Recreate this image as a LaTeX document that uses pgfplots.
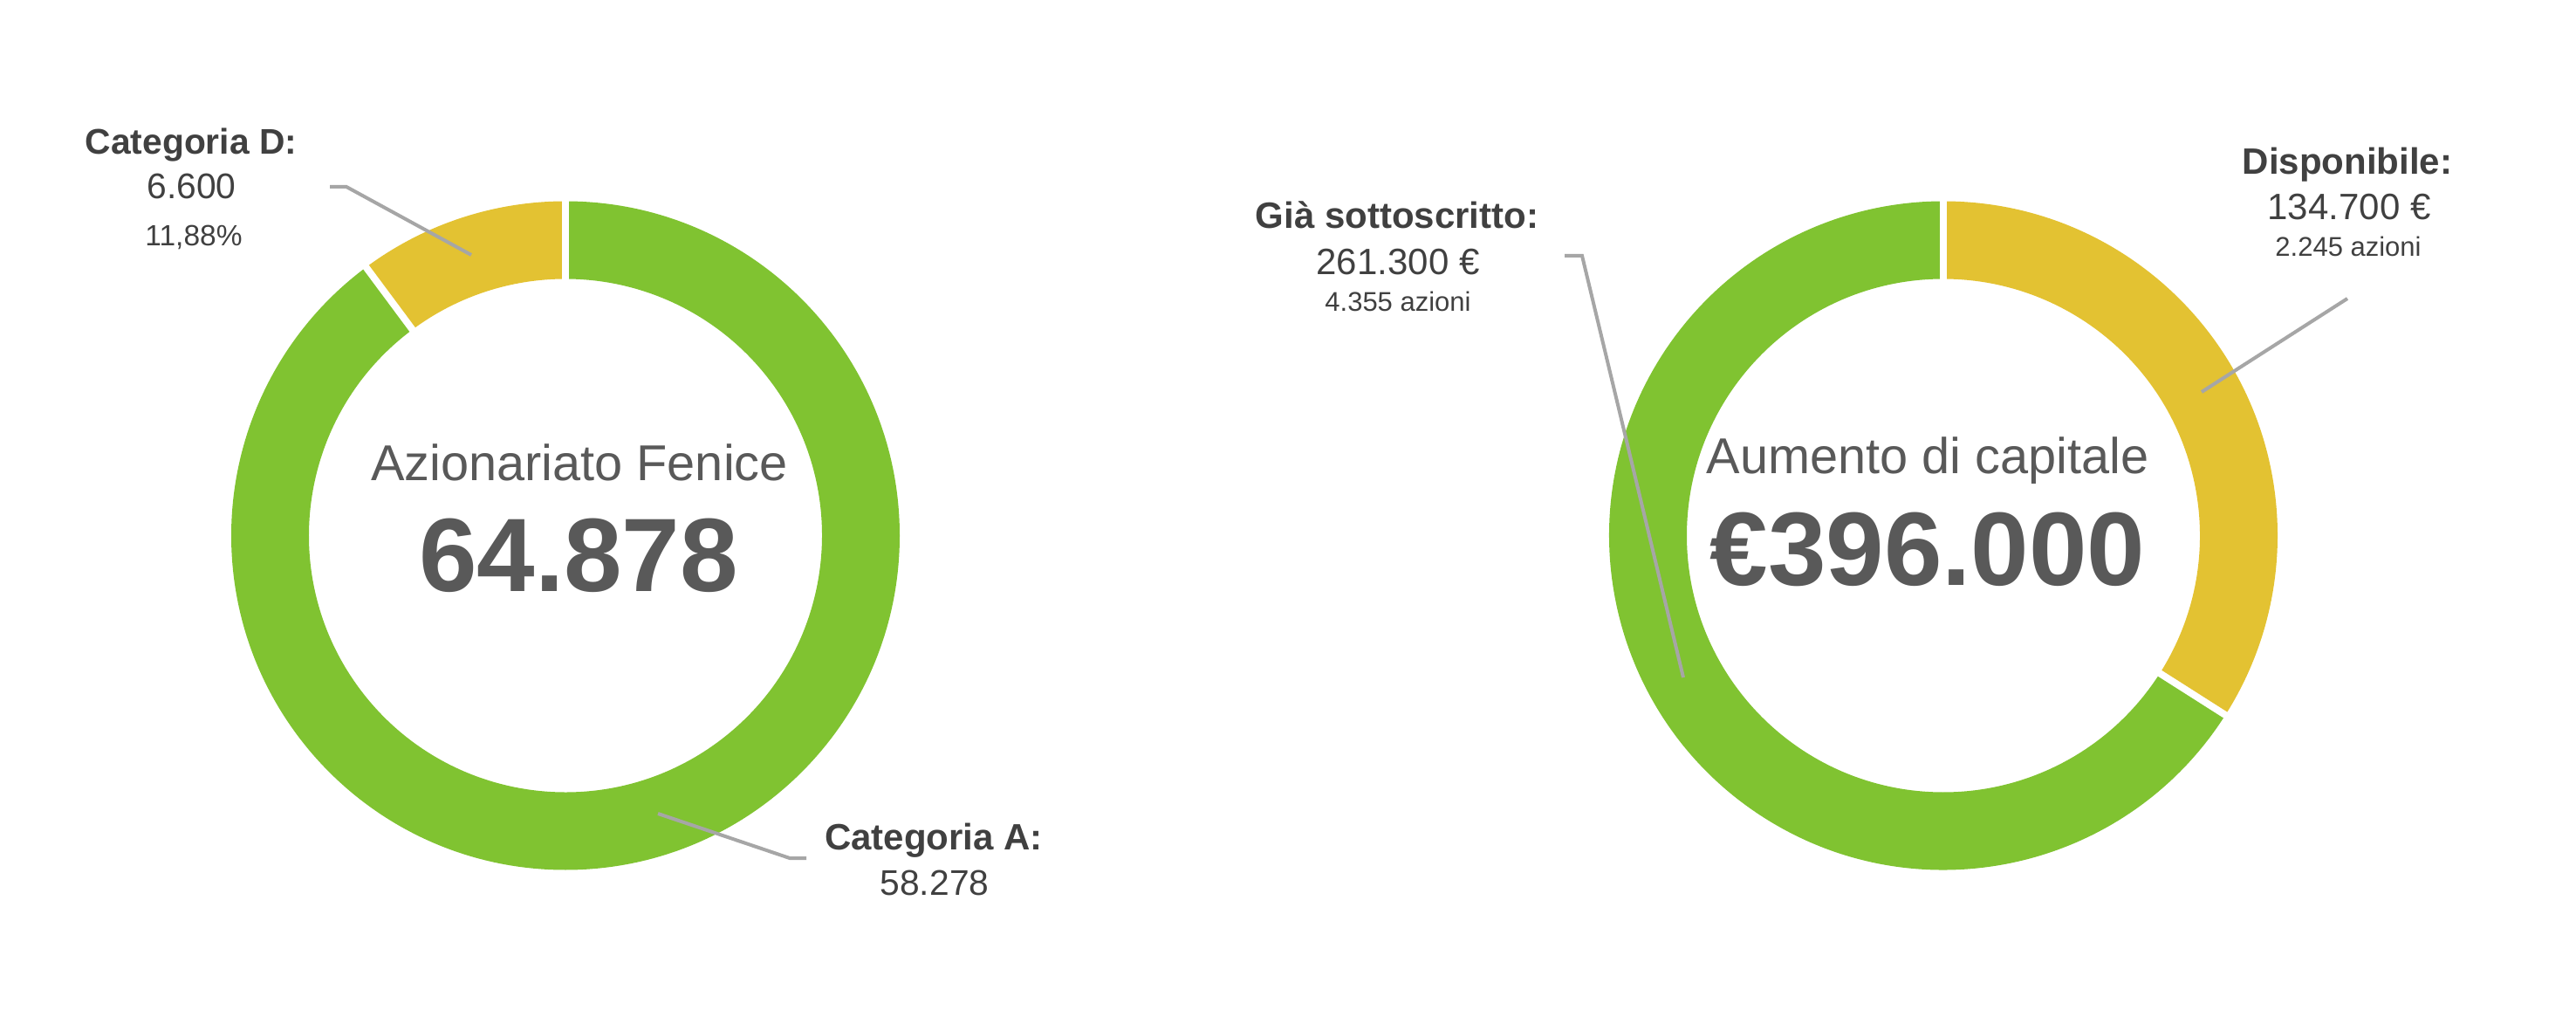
\documentclass[border=0pt]{standalone}
\usepackage{fontspec}
\setmainfont{Liberation Sans}
\usepackage{pgfplots}
\usepackage{pgfplotstable}
\pgfplotsset{compat=1.18}
\definecolor{cgreen}{HTML}{80C331}
\definecolor{cyellow}{HTML}{E3C232}
\definecolor{clabel}{HTML}{404040}
\definecolor{ccenter}{HTML}{595959}
\definecolor{cline}{HTML}{A6A6A6}

\pgfplotstableread{
name value
A 58278
D 6600
}\leftdata
\pgfplotstableread{
name value
Disponibile 134700
Sottoscritto 261300
}\rightdata

\pgfplotstablegetelem{0}{value}\of\leftdata \edef\LA{\pgfplotsretval}
\pgfplotstablegetelem{1}{value}\of\leftdata \edef\LD{\pgfplotsretval}
\pgfplotstablegetelem{0}{value}\of\rightdata \edef\RD{\pgfplotsretval}
\pgfplotstablegetelem{1}{value}\of\rightdata \edef\RS{\pgfplotsretval}
\edef\angL{\fpeval{90-360*\LA/(\LA+\LD)}}
\edef\angR{\fpeval{90-360*\RD/(\RD+\RS)}}

\newcommand\fpx[1]{\fontsize{\fpeval{#1*0.28453}pt}{\fpeval{#1*0.34}pt}\selectfont}
\newcommand\ringseg[4]{%
  \fill[#4] ([shift={(#2:38.3mm)}]#1) arc[start angle=#2, end angle=#3, radius=38.3mm]
    -- ([shift={(#3:29.4mm)}]#1) arc[start angle=#3, end angle=#2, radius=29.4mm] -- cycle;}
\newcommand\sep[2]{%
  \draw[white, line width=0.8mm] ([shift={(#2:28.9mm)}]#1) -- ([shift={(#2:38.8mm)}]#1);}

\begin{document}%
\begin{tikzpicture}
\begin{axis}[at={(0,0)}, anchor=south west, scale only axis,
  width=295.2mm, height=118.1mm, xmin=0, xmax=2952, ymin=0, ymax=1181,
  y dir=reverse, hide axis, clip=false]
\path (axis cs:0,1181) coordinate (BL);
\path (axis cs:2952,0) coordinate (TR);
\path (axis cs:648,613.5) coordinate (CL);
\path (axis cs:2227,613.5) coordinate (CR);
% left donut
\ringseg{CL}{90}{\angL}{cgreen}
\ringseg{CL}{\angL}{-270}{cyellow}
\sep{CL}{90}
\sep{CL}{\angL}
% right donut
\ringseg{CR}{90}{\angR}{cyellow}
\ringseg{CR}{\angR}{-270}{cgreen}
\sep{CR}{90}
\sep{CR}{\angR}
% leader lines
\draw[cline, line width=0.4mm] (axis cs:378,214) -- (axis cs:397,214) -- (axis cs:540,292);
\draw[cline, line width=0.4mm] (axis cs:754,932) -- (axis cs:905,983) -- (axis cs:924,983);
\draw[cline, line width=0.4mm] (axis cs:1793,293) -- (axis cs:1813,293) -- (axis cs:1929,776);
\draw[cline, line width=0.4mm] (axis cs:2690,342) -- (axis cs:2523,449);
% left labels
\node[anchor=base, text=clabel, inner sep=0pt, font=\fpx{40.8}\bfseries] at (axis cs:219,177) {Categoria D:};
\node[anchor=base, text=clabel, inner sep=0pt, font=\fpx{40.8}] at (axis cs:219.5,228) {6.600};
\node[anchor=base, text=clabel, inner sep=0pt, font=\fpx{33.5}] at (axis cs:222,282) {11,88\%};
\node[anchor=base, text=clabel, inner sep=0pt, font=\fpx{42}\bfseries] at (axis cs:1070,973) {Categoria A:};
\node[anchor=base, text=clabel, inner sep=0pt, font=\fpx{40.8}] at (axis cs:1071,1025) {58.278};
\node[anchor=base, text=ccenter, inner sep=0pt, font=\fpx{57.7}] at (axis cs:664,551) {Azionariato Fenice};
\node[anchor=base, text=ccenter, inner sep=0pt, font=\fpx{119.6}\bfseries] at (axis cs:663,678) {64.878};
% right labels
\node[anchor=base, text=clabel, inner sep=0pt, font=\fpx{42}\bfseries] at (axis cs:1601,262) {Già sottoscritto:};
\node[anchor=base, text=clabel, inner sep=0pt, font=\fpx{42}] at (axis cs:1602,315) {261.300 €};
\node[anchor=base, text=clabel, inner sep=0pt, font=\fpx{31}] at (axis cs:1602,357) {4.355 azioni};
\node[anchor=base, text=clabel, inner sep=0pt, font=\fpx{42}\bfseries] at (axis cs:2690,200) {Disponibile:};
\node[anchor=base, text=clabel, inner sep=0pt, font=\fpx{42}] at (axis cs:2692,252) {134.700 €};
\node[anchor=base, text=clabel, inner sep=0pt, font=\fpx{31}] at (axis cs:2691,294) {2.245 azioni};
\node[anchor=base, text=ccenter, inner sep=0pt, font=\fpx{57.7}] at (axis cs:2209,543) {Aumento di capitale};
\node[anchor=base, text=ccenter, inner sep=0pt, font=\fpx{119.6}\bfseries] at (axis cs:2209,670) {€396.000};
\end{axis}
\pgfresetboundingbox
\path[use as bounding box] (BL) rectangle (TR);
\end{tikzpicture}%
\end{document}
